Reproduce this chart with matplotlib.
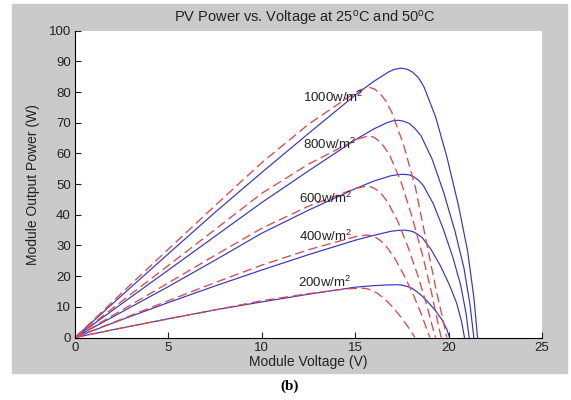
import numpy as np
import matplotlib
matplotlib.use('Agg')
import matplotlib.pyplot as plt
from matplotlib.patches import Rectangle

plt.rcParams['font.family'] = ['Liberation Sans', 'DejaVu Sans']
plt.rcParams['mathtext.default'] = 'regular'

# 25 C curves (solid blue), voltage (V) / power (W)
v_b1000 = [0, 2.5, 5, 7.5, 10, 12.5, 15, 16, 16.8, 17.1, 17.45, 17.8, 18.07, 18.4, 18.68, 19.3, 19.91, 20.53, 21.02, 21.35, 21.55]
p_b1000 = [0, 13.7, 27.3, 40.8, 53.8, 66.5, 79, 83.5, 86.6, 87.4, 87.8, 87.4, 86.5, 84.6, 81.7, 72, 58.8, 43, 28.1, 13.2, 0]
v_b800 = [0, 2.5, 5, 7.5, 10, 12.5, 15, 16, 16.7, 17.0, 17.3, 17.6, 17.91, 18.2, 18.52, 19.12, 19.73, 20.34, 20.82, 21.15, 21.35]
p_b800 = [0, 11, 22, 33, 44, 54.3, 64.4, 68, 70, 70.6, 70.8, 70.5, 69.7, 68.1, 65.8, 58.1, 47.4, 34.7, 22.7, 10.6, 0]
v_b600 = [0, 2.5, 5, 7.5, 10, 12.5, 15, 16, 16.9, 17.3, 17.6, 17.9, 18.13, 18.4, 18.65, 19.18, 19.7, 20.23, 20.65, 20.93, 21.1]
p_b600 = [0, 8.3, 16.6, 25.2, 34, 41.5, 48.5, 51, 52.7, 53.1, 53.2, 53.0, 52.4, 51.2, 49.5, 43.6, 35.6, 26.1, 17, 8, 0]
v_b400 = [0, 2.5, 5, 7.5, 10, 12.5, 15, 16, 16.9, 17.3, 17.6, 17.85, 18.09, 18.33, 18.58, 19.06, 19.55, 20.04, 20.43, 20.69, 20.85]
p_b400 = [0, 5.8, 11.4, 16.8, 22, 27, 31.7, 33.3, 34.6, 34.9, 35, 34.85, 34.5, 33.7, 32.6, 28.7, 23.5, 17.2, 11.2, 5.3, 0]
v_b200 = [0, 2.5, 5, 7.5, 10, 12.5, 15, 16, 16.6, 17.2, 17.45, 17.63, 17.85, 18.06, 18.48, 18.91, 19.34, 19.68, 19.91, 20.05]
p_b200 = [0, 3.1, 6.1, 9, 11.6, 14.1, 16.4, 16.9, 17.1, 17.2, 17.1, 16.9, 16.5, 16.0, 14.1, 11.5, 8.4, 5.5, 2.6, 0]

# 50 C curves (dashed red)
v_r1000 = [0, 2.5, 5, 7.5, 10, 12.5, 14.5, 15.2, 15.7, 16.0, 16.33, 16.65, 16.96, 17.59, 18.22, 18.85, 19.35, 19.69, 19.9]
p_r1000 = [0, 14.5, 28.8, 43, 57, 69.5, 77.8, 80.5, 81.6, 81.1, 79.6, 77.0, 73.4, 62.8, 49, 30, 15, 6, 0]
v_r800 = [0, 2.5, 5, 7.5, 10, 12.5, 14.5, 15.2, 15.7, 16.0, 16.29, 16.58, 16.87, 17.46, 18.04, 18.63, 19.09, 19.41, 19.6]
p_r800 = [0, 11.8, 23.5, 35.2, 47, 56.5, 62.8, 64.8, 65.7, 65.3, 64, 61.9, 59.1, 50.6, 39.4, 26.3, 14.5, 5.3, 0]
v_r600 = [0, 2.5, 5, 7.5, 10, 12.5, 14.5, 15.1, 15.6, 15.9, 16.16, 16.44, 16.71, 17.27, 17.82, 18.38, 18.82, 19.12, 19.3]
p_r600 = [0, 8.9, 17.8, 26.8, 35.6, 42.8, 47.4, 48.7, 49.3, 49.0, 48.1, 46.5, 44.4, 38, 29.6, 19.7, 10.8, 3.9, 0]
v_r400 = [0, 2.5, 5, 7.5, 10, 12.5, 14.5, 15.1, 15.6, 15.85, 16.11, 16.37, 16.62, 17.13, 17.64, 18.15, 18.56, 18.83, 19.0]
p_r400 = [0, 6, 12, 17.9, 23.6, 28.6, 32, 33, 33.4, 33.2, 32.6, 31.5, 30.1, 25.7, 20, 13.4, 7.3, 2.7, 0]
v_r200 = [0, 2.5, 5, 7.5, 10, 12.5, 14.2, 14.8, 15.3, 15.52, 15.74, 15.95, 16.17, 16.61, 17.04, 17.48, 17.82, 18.06, 18.2]
p_r200 = [0, 3.1, 6.1, 9, 12, 14.3, 15.6, 15.95, 16.1, 16.0, 15.7, 15.2, 14.5, 12.4, 9.7, 6.4, 3.5, 1.3, 0]

labels = ['1000w/m$^2$', '800w/m$^2$', '600w/m$^2$', '400w/m$^2$', '200w/m$^2$']
label_v = [12.2, 12.2, 12.0, 12.0, 11.95]
label_p = [78.3, 63.0, 45.3, 32.9, 18.1]

fig = plt.figure(figsize=(5.71, 4.0), dpi=100)
fig.patches.append(Rectangle((12/571, 27/400), 555/571, 369/400, transform=fig.transFigure,
                             color='#cacaca', zorder=-10))
ax = fig.add_axes([75/571, 62.5/400, 467/571, 306.8/400])
ax.set_zorder(1)

blue = [(v_b1000, p_b1000), (v_b800, p_b800), (v_b600, p_b600), (v_b400, p_b400), (v_b200, p_b200)]
red = [(v_r1000, p_r1000), (v_r800, p_r800), (v_r600, p_r600), (v_r400, p_r400), (v_r200, p_r200)]
for v, p in blue:
    ax.plot(v, p, color='#3434c8', lw=0.85)
for v, p in red:
    ax.plot(v, p, color='#e04848', lw=0.95, dashes=(7, 3.5))

for t, x, y in zip(labels, label_v, label_p):
    ax.text(x, y, t, fontsize=9.5, va='center', ha='left', color='#222222')

ax.set_xlim(0, 25)
ax.set_ylim(0, 100)
ax.set_xticks(np.arange(0, 26, 5))
ax.set_yticks(np.arange(0, 101, 10))
ax.tick_params(direction='in', length=4, labelsize=9.5, colors='#222222', pad=3)
ax.spines['top'].set_visible(False)
ax.spines['right'].set_visible(False)
ax.set_xlabel('Module Voltage (V)', fontsize=10, color='#222222', labelpad=1)
ax.set_ylabel('Module Output Power (W)', fontsize=10, color='#222222', labelpad=6)

fig.text(0.534, (400 - 18)/400, 'PV Power vs. Voltage at 25$^o$C and 50$^o$C',
         ha='center', va='center', fontsize=10.5, color='#222222')
fig.text(290/571, (400 - 386)/400, '(b)', ha='center', va='center', fontsize=11,
         fontweight='bold', family='Liberation Serif')

fig.savefig('out.png', dpi=100)
